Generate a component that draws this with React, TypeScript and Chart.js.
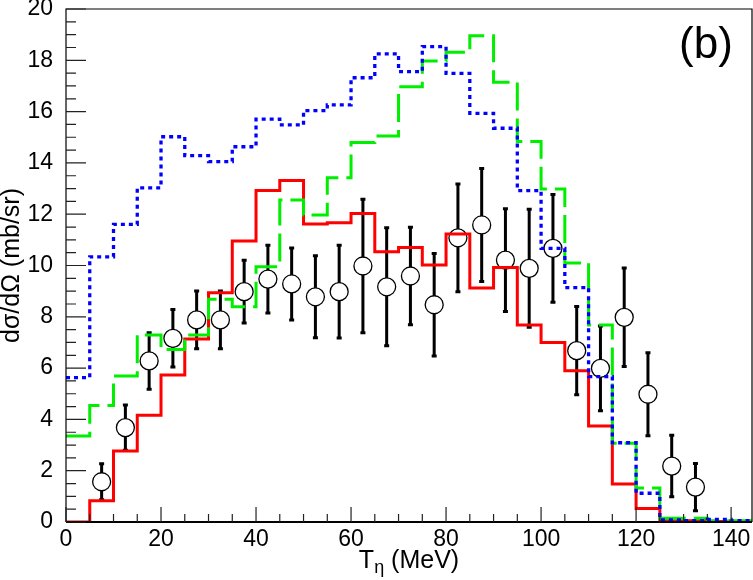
import { useEffect, useRef } from "react";
import { Chart, registerables } from "chart.js";

Chart.register(...registerables);

// histogram bins (lower edges, MeV) and upper edge of the last bin
const binLow = [
  0, 5, 10, 15, 20, 25, 30, 35, 40, 45, 50, 55, 60, 65, 70, 75, 80, 85, 90, 95,
  100, 105, 110, 115, 120, 125, 130, 135, 140,
];
const binEnd = 145;

// model curves, mb/sr
const redModel = [
  0, 0.83, 2.77, 4.16, 5.73, 7.13, 8.94, 10.96, 12.92, 13.31, 11.62, 11.67,
  12.03, 10.54, 10.7, 10.02, 11.23, 9.12, 9.92, 7.68, 7.0, 5.9, 3.74, 1.48,
  0.53, 0.05, 0.05, 0.02, 0.02,
];
const greenModel = [
  3.35, 4.54, 5.69, 7.29, 6.73, 7.29, 8.68, 8.39, 9.95, 12.55, 11.97, 13.42,
  14.8, 15.05, 16.97, 17.97, 18.31, 18.96, 17.14, 14.83, 12.98, 10.1, 7.68,
  3.07, 1.33, 0.15, 0.15, 0.05, 0.05,
];
const blueModel = [
  5.63, 10.34, 11.6, 13.03, 15.02, 14.28, 14.05, 14.63, 15.71, 15.48, 16.04,
  16.26, 17.32, 18.25, 17.56, 18.53, 17.49, 15.93, 15.35, 12.92, 10.67, 9.14,
  5.67, 3.09, 1.12, 0.08, 0.05, 0.1, 0.05,
];

// measured points
const dataX = [
  7.5, 12.5, 17.5, 22.5, 27.5, 32.5, 37.5, 42.5, 47.5, 52.5, 57.5, 62.5, 67.5,
  72.5, 77.5, 82.5, 87.5, 92.5, 97.5, 102.5, 107.5, 112.5, 117.5, 122.5, 127.5,
  132.5,
];
const dataY = [
  1.57, 3.68, 6.28, 7.16, 7.88, 7.88, 8.98, 9.47, 9.28, 8.78, 8.98, 9.98, 9.17,
  9.59, 8.47, 11.08, 11.58, 10.21, 9.89, 10.67, 6.68, 5.99, 7.98, 4.98, 2.18,
  1.36,
];
const dataErr = [
  0.7, 0.88, 1.1, 1.12, 1.13, 1.13, 1.22, 1.32, 1.4, 1.6, 1.81, 2.6, 2.3, 1.9,
  2.0, 2.1, 2.2, 2.0, 2.3, 2.1, 1.72, 1.65, 1.92, 1.62, 1.2, 0.92,
];

const xTicks = [0, 20, 40, 60, 80, 100, 120, 140];
const yTicks = [0, 2, 4, 6, 8, 10, 12, 14, 16, 18, 20];

const FONT = "'Liberation Sans', Arial, Helvetica, sans-serif";

const steps = (vals: number[]) => [
  ...binLow.map((x, i) => ({ x, y: vals[i] })),
  { x: binEnd, y: vals[vals.length - 1] },
];

const errorBars = {
  id: "errorBars",
  beforeDatasetDraw(chart: any, args: any) {
    if (args.index !== 3) return;
    const { ctx } = chart;
    const { x, y } = chart.scales;
    ctx.save();
    ctx.strokeStyle = "#000";
    ctx.lineWidth = 3;
    dataX.forEach((vx, i) => {
      const px = x.getPixelForValue(vx);
      const top = y.getPixelForValue(dataY[i] + dataErr[i]);
      const bot = y.getPixelForValue(dataY[i] - dataErr[i]);
      ctx.beginPath();
      ctx.moveTo(px, top);
      ctx.lineTo(px, bot);
      ctx.moveTo(px - 2.5, top);
      ctx.lineTo(px + 2.5, top);
      ctx.moveTo(px - 2.5, bot);
      ctx.lineTo(px + 2.5, bot);
      ctx.stroke();
    });
    ctx.restore();
  },
};

// ROOT-style frame with ticks pointing inwards
const frame = {
  id: "frame",
  afterDatasetsDraw(chart: any) {
    const { ctx, chartArea: a } = chart;
    const { x, y } = chart.scales;
    ctx.save();
    ctx.strokeStyle = "#000";
    ctx.lineWidth = 1.2;
    ctx.beginPath();
    ctx.moveTo(a.left, a.bottom);
    ctx.lineTo(a.left, a.top);
    ctx.lineTo(a.right, a.top);
    ctx.lineTo(a.right, a.bottom);
    ctx.stroke();
    ctx.lineWidth = 2;
    ctx.beginPath();
    ctx.moveTo(a.left, a.bottom);
    ctx.lineTo(a.right, a.bottom);
    ctx.stroke();

    ctx.strokeStyle = "#222";
    ctx.lineWidth = 1.2;
    ctx.beginPath();
    for (let v = 0; v <= 20; v += 0.5) {
      const py = y.getPixelForValue(v);
      const len = v % 2 === 0 ? 20 : 10;
      ctx.moveTo(a.left, py);
      ctx.lineTo(a.left + len, py);
    }
    for (let v = 0; v <= 140; v += 5) {
      const px = x.getPixelForValue(v);
      const len = v % 20 === 0 ? 15 : 8;
      ctx.moveTo(px, a.bottom);
      ctx.lineTo(px, a.bottom - len);
    }
    ctx.stroke();
    ctx.restore();
  },
  afterDraw(chart: any) {
    const { ctx, chartArea: a } = chart;
    ctx.save();
    ctx.fillStyle = "#000";

    ctx.font = `44px ${FONT}`;
    ctx.textAlign = "center";
    ctx.textBaseline = "middle";
    ctx.fillText("(b)", a.right - 46, a.top + 37);

    // x title with subscript eta
    const big = `25px ${FONT}`;
    const small = `18px ${FONT}`;
    ctx.textAlign = "left";
    ctx.textBaseline = "alphabetic";
    ctx.font = big;
    const wT = ctx.measureText("T").width;
    const wRest = ctx.measureText(" (MeV)").width;
    ctx.font = small;
    const wEta = ctx.measureText("η").width;
    const total = wT + wEta + wRest;
    let cx = (a.left + a.right) / 2 - total / 2;
    const base = 568;
    ctx.font = big;
    ctx.fillText("T", cx, base);
    cx += wT;
    ctx.font = small;
    ctx.fillText("η", cx, base + 5);
    cx += wEta;
    ctx.font = big;
    ctx.fillText(" (MeV)", cx, base);

    // y title
    ctx.translate(12, (a.top + a.bottom) / 2);
    ctx.rotate(-Math.PI / 2);
    ctx.textAlign = "center";
    ctx.textBaseline = "middle";
    ctx.font = big;
    ctx.fillText("dσ/dΩ (mb/sr)", 0, 0);
    ctx.restore();
  },
};

export default function App() {
  const canvasRef = useRef<HTMLCanvasElement | null>(null);

  useEffect(() => {
    document.body.style.margin = "0";
    if (!canvasRef.current) return;
    const ctx = canvasRef.current.getContext("2d");
    if (!ctx) return;

    const tickFont = { family: FONT, size: 23 };

    const chart = new Chart(ctx, {
      type: "line",
      data: {
        datasets: [
          {
            label: "blue",
            data: steps(blueModel),
            borderColor: "#0000ff",
            borderWidth: 3.3,
            borderDash: [4, 4],
            stepped: "before",
            pointRadius: 0,
            fill: false,
            order: 1,
          },
          {
            label: "green",
            data: steps(greenModel),
            borderColor: "#00ee00",
            borderWidth: 3,
            borderDash: [28, 8],
            stepped: "before",
            pointRadius: 0,
            fill: false,
            order: 2,
          },
          {
            label: "red",
            data: steps(redModel),
            borderColor: "#ff0000",
            borderWidth: 3,
            stepped: "before",
            pointRadius: 0,
            fill: false,
            order: 3,
          },
          {
            type: "scatter",
            label: "data",
            data: dataX.map((x, i) => ({ x, y: dataY[i] })),
            pointRadius: 9,
            pointBackgroundColor: "#fff",
            pointBorderColor: "#000",
            pointBorderWidth: 1.3,
            showLine: false,
            order: 4,
          },
        ] as any,
      },
      options: {
        responsive: false,
        animation: false,
        events: [],
        layout: {
          autoPadding: false,
          padding: { top: 9, right: 1, bottom: 0, left: 0 },
        },
        plugins: {
          legend: { display: false },
          tooltip: { enabled: false },
        },
        scales: {
          x: {
            type: "linear",
            min: 0,
            max: 144.4,
            grid: { display: false },
            border: { display: false },
            ticks: {
              font: tickFont,
              color: "#000",
              padding: -4,
              maxRotation: 0,
              autoSkip: false,
            },
            afterBuildTicks: (s: any) => {
              s.ticks = xTicks.map((value) => ({ value }));
            },
            afterFit: (s: any) => {
              s.height = 58;
              s.paddingLeft = 0;
              s.paddingRight = 0;
            },
          },
          y: {
            type: "linear",
            min: 0,
            max: 20,
            grid: { display: false },
            border: { display: false },
            ticks: {
              font: tickFont,
              color: "#000",
              padding: 5,
              autoSkip: false,
            },
            afterBuildTicks: (s: any) => {
              s.ticks = yTicks.map((value) => ({ value }));
            },
            afterFit: (s: any) => {
              s.width = 66;
              s.paddingTop = 0;
              s.paddingBottom = 0;
            },
          },
        },
      } as any,
      plugins: [errorBars, frame],
    });

    return () => {
      chart.destroy();
    };
  }, []);

  return (
    <div style={{ width: 753, height: 580, background: "#fff" }}>
      <canvas ref={canvasRef} width={753} height={580}></canvas>
    </div>
  );
}
